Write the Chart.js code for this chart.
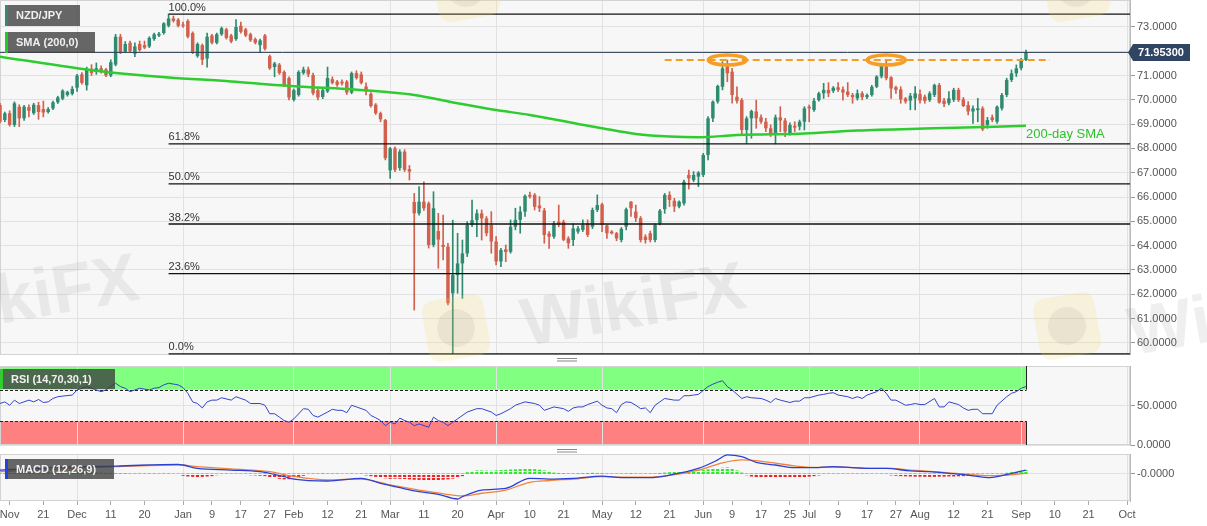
<!DOCTYPE html>
<html>
<head>
<meta charset="utf-8">
<script src="https://cdn.jsdelivr.net/npm/chart.js@4.4.0/dist/chart.umd.min.js"></script>
<style>
body { margin:0; background:#fff; width:1207px; height:526px; overflow:hidden; position:relative; font-family:'Liberation Sans', Arial, sans-serif; }
canvas { position:absolute; left:0; }
#main { top:0; }
#rsi { top:355px; }
#macd { top:445px; }
.wm { position:absolute; transform:translate(-50%,-50%) rotate(-10deg); pointer-events:none; }
.wt { font:bold 68px 'Liberation Sans', Arial, sans-serif; color:rgba(120,110,110,0.11); white-space:nowrap; }
.wl { width:62px; height:62px; border-radius:12px; background:rgba(250,215,110,0.2); }
.wl::after { content:''; position:absolute; left:12px; top:12px; width:38px; height:38px; border-radius:50%; background:rgba(130,120,120,0.11); }
</style>
</head>
<body>
<canvas id="main" width="1207" height="355"></canvas>
<canvas id="rsi" width="1207" height="99"></canvas>
<canvas id="macd" width="1207" height="81"></canvas>
<div class="wm wl" style="left:456px;top:328px"></div>
<div class="wm wl" style="left:1067px;top:326px"></div>
<div class="wm wl" style="left:466px;top:-12px"></div>
<div class="wm wl" style="left:1076px;top:-12px"></div>
<div class="wm wt" style="left:633px;top:303px">WikiFX</div>
<div class="wm wt" style="left:26px;top:295px">WikiFX</div>
<div class="wm wt" style="left:1240px;top:312px">WikiFX</div>
<script>
// daily NZD/JPY candles, one per trading day from 8 Nov 2019 (index 0) to 2 Sep 2020
const opens = [69.79,69.17,69.45,68.97,69.72,69.24,69.70,69.45,69.78,69.62,
69.50,69.65,69.90,70.05,70.20,70.25,70.50,71.05,70.60,71.28,
71.15,71.30,71.25,71.00,71.45,72.60,71.98,72.35,71.90,72.30,
72.25,72.20,72.50,72.65,72.75,73.05,73.35,73.30,73.10,73.25,
72.75,71.80,72.25,71.70,72.65,72.35,72.70,72.90,72.65,72.50,
73.05,72.90,72.70,72.50,72.25,72.65,71.80,71.35,71.45,71.15,
70.90,70.00,70.20,71.10,71.25,71.02,70.40,70.12,70.35,70.85,
70.75,70.75,70.75,70.30,71.10,71.05,70.55,70.25,69.80,69.45,
69.17,67.10,68.00,67.20,67.87,67.15,65.80,65.33,65.81,65.74,
64.03,64.60,64.03,63.96,62.04,62.79,63.27,63.68,64.85,65.05,
65.33,65.12,64.85,64.17,63.35,63.85,63.75,64.78,65.06,65.40,
66.09,66.09,65.65,65.45,64.50,64.37,64.98,64.98,64.30,64.23,
64.58,64.65,64.92,64.78,65.47,65.70,64.83,64.58,64.51,64.23,
64.78,65.81,65.40,65.13,64.37,64.51,64.23,64.92,65.50,66.09,
65.85,65.61,65.74,66.91,66.70,66.84,66.91,67.73,69.24,69.93,
70.54,71.50,71.16,70.13,69.99,68.76,69.24,69.52,69.28,69.10,
68.83,68.56,69.28,69.15,68.62,68.93,68.90,69.10,69.72,69.58,
69.99,70.27,70.41,70.37,70.52,70.43,70.34,70.20,70.06,70.27,
70.11,70.20,70.54,70.96,71.37,70.93,70.52,70.43,70.06,69.97,
70.06,70.24,70.13,69.99,70.20,70.61,69.97,69.86,70.00,70.41,
70.02,69.79,69.52,69.58,69.65,68.97,69.28,69.10,69.65,70.20,
70.82,71.09,71.30,71.64];
const highs = [69.86,69.50,69.55,69.92,69.80,69.78,69.80,69.86,69.90,69.95,
69.68,69.95,70.15,70.42,70.36,70.55,71.05,71.12,71.35,71.45,
71.52,71.40,71.30,71.65,72.70,72.70,72.40,72.42,72.35,72.42,
72.42,72.60,72.75,72.78,73.18,73.53,73.45,73.35,73.20,73.30,
72.80,72.35,72.30,72.75,72.70,72.75,73.00,72.95,72.70,73.30,
73.20,72.95,72.75,72.55,72.50,72.70,71.85,71.55,71.50,71.20,
70.95,70.45,71.20,71.35,71.35,71.10,70.45,70.45,71.35,70.95,
70.80,70.82,70.80,71.15,71.20,71.15,70.70,70.30,69.85,69.50,
69.20,68.05,68.07,67.95,67.95,67.30,66.15,66.43,66.63,65.80,
66.22,65.33,65.26,64.10,65.05,64.51,64.23,64.99,65.88,65.47,
65.47,65.20,65.40,64.37,63.89,64.03,65.06,65.54,65.61,66.09,
66.20,66.15,66.02,65.54,64.58,65.00,65.67,65.05,64.37,64.90,
64.80,65.06,65.06,65.55,66.09,65.75,64.85,64.62,64.55,64.75,
65.55,65.81,65.67,65.20,64.45,64.60,64.90,65.50,66.15,66.22,
65.95,65.85,66.70,67.11,67.05,67.05,67.80,69.31,69.96,70.61,
71.57,71.64,71.30,70.54,70.06,69.31,69.58,69.99,69.38,69.24,
68.97,69.38,69.72,69.24,69.05,69.10,69.17,69.72,69.79,70.06,
70.32,70.68,70.71,70.55,70.71,70.54,70.71,70.27,70.41,70.34,
70.25,70.60,71.00,71.50,71.62,70.96,70.57,70.54,70.10,70.27,
70.55,70.41,70.20,70.34,70.65,70.68,70.06,70.34,70.48,70.48,
70.10,69.93,69.75,70.06,69.72,69.28,69.38,69.75,70.27,70.89,
71.23,71.44,71.71,72.05];
const lows = [69.05,69.10,68.92,68.90,68.90,69.15,69.30,69.40,69.20,69.30,
69.45,69.60,69.85,70.00,70.15,70.20,70.35,70.65,70.40,71.00,
71.05,71.10,70.95,70.95,71.40,71.90,71.95,71.95,71.78,72.00,
72.10,72.15,72.45,72.60,72.70,73.00,73.20,73.00,72.98,72.55,
71.90,71.75,71.45,71.35,72.30,72.30,72.65,72.50,72.35,72.45,
72.75,72.60,72.40,72.30,71.95,72.05,71.25,70.95,71.05,70.55,
70.00,69.95,70.15,71.05,70.95,70.20,70.00,70.05,70.30,70.65,
70.55,70.60,70.22,70.25,70.85,70.65,70.20,69.70,69.40,69.10,
67.53,66.77,67.05,67.10,67.05,66.70,61.35,65.25,65.45,63.90,
63.95,63.07,63.41,61.56,59.55,62.04,61.83,63.55,64.78,64.37,
64.23,64.40,63.69,63.21,63.14,63.34,63.69,64.65,64.51,65.20,
65.95,65.47,65.40,64.10,63.89,64.30,64.78,64.20,63.89,64.00,
64.50,64.58,64.37,64.70,65.40,64.58,64.30,64.48,64.20,64.15,
64.65,65.20,64.99,64.15,64.10,64.15,64.15,64.85,65.33,65.61,
65.40,65.55,65.67,66.33,66.63,66.43,66.84,67.53,69.10,69.86,
70.41,70.75,69.86,69.86,68.56,68.21,68.42,68.83,69.03,68.69,
68.49,68.19,68.69,68.49,68.55,68.69,68.76,68.76,69.10,69.52,
69.95,70.06,70.13,70.30,70.34,69.99,70.13,69.86,69.99,70.00,
70.05,70.15,70.50,70.90,70.82,70.06,70.27,69.86,69.86,69.59,
69.59,69.86,69.86,69.93,70.13,69.86,69.72,69.79,69.93,69.93,
69.72,69.38,69.03,69.10,68.73,68.83,69.10,69.03,69.58,70.13,
70.75,70.96,71.23,71.61];
const closes = [69.10,69.45,68.97,69.86,69.24,69.72,69.55,69.80,69.50,69.48,
69.62,69.90,70.10,70.38,70.33,70.45,71.00,70.70,71.25,71.10,
71.30,71.15,71.00,71.55,72.60,71.95,72.30,72.00,72.20,72.05,
72.15,72.55,72.70,72.72,73.15,73.35,73.25,73.05,73.05,72.60,
71.95,72.30,71.65,72.60,72.35,72.70,72.95,72.55,72.40,73.00,
72.80,72.65,72.45,72.35,72.45,72.10,71.30,71.50,71.10,70.60,
70.10,70.40,71.15,71.25,71.05,70.27,70.10,70.40,70.90,70.70,
70.62,70.68,70.30,71.10,70.90,70.70,70.35,69.75,69.45,69.20,
67.60,68.00,67.12,67.87,67.12,67.05,65.33,65.81,65.54,64.03,
65.54,64.25,63.95,61.63,62.79,63.27,63.68,64.85,65.05,65.33,
65.12,64.51,64.17,63.35,63.82,63.74,64.78,65.06,65.40,66.05,
66.02,65.60,65.54,64.44,64.37,64.92,64.85,64.24,64.10,64.71,
64.71,64.85,64.44,65.47,65.67,64.85,64.51,64.51,64.30,64.69,
65.50,65.54,65.13,64.23,64.23,64.23,64.85,65.44,66.09,65.88,
65.61,65.81,66.63,66.77,66.91,67.01,67.73,69.24,69.93,70.57,
71.30,71.09,70.20,69.96,68.76,69.24,69.54,69.24,69.10,68.83,
68.56,69.28,69.15,68.69,68.97,68.86,69.10,69.65,69.65,69.96,
70.27,70.41,70.27,70.50,70.41,70.30,70.20,70.11,70.27,70.11,
70.20,70.54,70.96,71.39,70.89,70.47,70.41,70.02,69.93,70.17,
70.27,69.97,69.96,70.27,70.61,69.89,69.83,70.06,70.41,69.99,
69.75,69.52,69.65,69.65,68.79,69.17,69.17,69.72,70.20,70.82,
71.09,71.30,71.60,71.953];

// 200-day SMA, [day index, value]
const smaPts = [[0,71.78],[16,71.30],[23,71.13],[35,70.92],[48,70.76],[58,70.60],[65,70.52],[73,70.44],
[79,70.34],[86,70.20],[95,69.86],[103,69.58],[110,69.38],[120,69.01],[125,68.83],[132,68.60],[139,68.49],
[145,68.46],[153,68.55],[160,68.58],[167,68.62],[178,68.74],[194,68.83],[213,68.93]];

// RSI(14) [day index, value]
const rsiPts = [[0,52.5],[1,54.6],[2,50.3],[3,56.8],[4,52.5],[6,56.8],[7,54.6],[8,57.6],[9,53.8],[10,54.6],
[11,58.9],[12,61.1],[13,61.9],[15,63.2],[16,69.7],[17,71.8],[18,74.0],[19,71.8],[21,67.5],[22,69.7],
[23,74.0],[24,78.2],[25,74.0],[26,71.8],[27,67.5],[28,69.7],[29,71.8],[31,69.7],[32,71.8],[33,72.7],
[34,76.1],[35,78.2],[37,76.1],[38,72.7],[39,65.4],[40,54.6],[41,52.5],[42,46.9],[43,54.6],[44,56.8],
[45,56.8],[46,59.8],[48,56.8],[49,61.1],[50,58.9],[51,56.8],[52,52.5],[54,52.5],[55,50.3],[56,39.6],
[57,39.6],[58,35.3],[59,31.0],[60,28.8],[61,33.0],[63,46.0],[64,45.2],[65,37.4],[66,35.3],[68,41.7],
[69,45.2],[70,43.9],[71,43.9],[72,40.9],[73,50.3],[74,48.2],[76,43.9],[77,37.4],[78,34.4],[79,31.0],
[80,24.5],[81,28.8],[82,26.7],[83,34.0],[84,31.0],[85,28.8],[86,24.5],[87,26.7],[89,22.5],[90,35.3],
[91,31.0],[92,28.8],[93,24.5],[94,28.8],[95,33.1],[97,41.7],[99,46.0],[100,46.0],[102,41.7],[103,37.4],
[104,39.6],[106,46.0],[107,50.3],[108,52.5],[109,54.6],[111,52.5],[112,50.3],[113,43.9],[114,46.0],[115,48.2],
[117,46.0],[118,42.6],[119,46.9],[120,48.2],[121,48.2],[122,51.2],[124,55.5],[125,50.3],[126,46.9],[127,46.0],
[128,40.9],[129,51.2],[130,54.6],[131,53.8],[132,50.3],[133,46.0],[134,46.9],[135,40.9],[136,50.3],[137,54.6],
[138,58.9],[140,56.8],[141,56.8],[142,62.4],[143,62.4],[144,63.2],[145,64.1],[147,74.0],[148,77.0],[149,79.5],
[150,81.3],[151,74.0],[152,69.7],[154,58.9],[155,61.1],[156,59.8],[158,58.9],[159,56.8],[160,53.8],[161,58.9],
[162,56.8],[164,53.8],[165,55.5],[166,55.5],[167,59.8],[168,59.8],[170,63.2],[171,64.1],[172,65.4],[173,66.2],
[174,63.2],[176,61.1],[177,58.9],[178,61.1],[179,58.9],[180,63.2],[182,67.5],[183,71.8],[184,65.4],[185,56.8],
[186,56.8],[188,50.3],[189,51.2],[190,52.5],[191,51.2],[192,51.2],[194,58.9],[195,48.2],[196,48.2],[197,54.6],
[199,51.2],[200,46.9],[201,43.9],[202,45.2],[203,45.2],[204,39.6],[206,39.6],[207,50.3],[209,61.1],[210,65.4],
[211,67.5],[212,71.8],[213,74.0]];

// MACD(12,26,9) lines [day index, value]
const macdPts = [[0,0.22],[8,0.31],[16,0.41],[24,0.44],[37,0.54],[38,0.50],[41,0.31],[48,0.22],[54,0.13],
[59,-0.15],[61,-0.28],[68,-0.39],[75,-0.24],[79,-0.52],[83,-0.76],[87,-0.98],[91,-1.13],[95,-1.39],[96,-1.26],
[100,-0.89],[105,-0.80],[110,-0.24],[114,-0.28],[119,-0.24],[125,-0.12],[129,-0.20],[135,-0.20],[139,-0.06],
[145,0.31],[149,0.78],[151,1.06],[154,0.96],[157,0.65],[161,0.50],[165,0.35],[169,0.35],[173,0.41],[177,0.35],
[181,0.31],[184,0.31],[189,0.17],[193,0.13],[197,0.04],[201,-0.06],[205,-0.20],[208,-0.09],[213,0.22]];
const signalPts = [[0,0.13],[16,0.31],[24,0.41],[37,0.50],[41,0.41],[48,0.28],[56,0.13],[60,-0.09],[68,-0.33],
[75,-0.28],[81,-0.61],[87,-0.89],[94,-1.17],[96,-1.22],[100,-1.07],[105,-0.89],[110,-0.46],[114,-0.36],
[119,-0.28],[125,-0.15],[129,-0.17],[135,-0.17],[139,-0.08],[145,0.22],[150,0.62],[154,0.78],[157,0.74],
[161,0.60],[165,0.45],[169,0.37],[173,0.39],[177,0.35],[181,0.31],[185,0.31],[189,0.22],[193,0.15],[197,0.06],
[201,-0.02],[205,-0.09],[208,-0.08],[213,0.04]];
// MACD histogram, one per candle
const histo = [0.03,0.03,0.04,0.04,0.05,0.05,0.06,0.06,0.07,0.07,0.08,0.08,0.08,0.09,0.09,0.10,0.10,0.10,0.09,0.08,0.07,0.06,0.05,0.04,
0.03,0.03,0.03,0.02,0.02,0.02,0.02,0.02,0.02,0.02,0.02,0.02,0.01,0.01,
-0.08,-0.12,-0.14,-0.15,-0.14,-0.12,-0.10,
-0.05,-0.04,-0.03,-0.03,-0.03,-0.04,-0.04,-0.05,-0.06,-0.08,-0.10,
-0.15,-0.20,-0.25,-0.28,-0.27,-0.22,-0.15,
-0.08,-0.03,0.02,0.02,0.03,0.02,0.02,0.02,0.01,0.01,0.02,0.01,-0.01,
-0.06,-0.10,-0.14,-0.18,-0.22,-0.25,-0.24,-0.25,-0.26,-0.28,-0.30,-0.31,-0.32,-0.33,-0.33,-0.32,-0.30,-0.28,-0.24,-0.18,-0.10,
0.08,0.15,0.18,0.18,0.17,0.16,0.18,0.20,0.21,0.23,0.24,0.25,0.26,0.26,0.25,0.22,0.18,0.12,
0.06,0.04,0.03,0.02,0.02,0.03,0.03,0.04,0.05,0.04,
0.03,0.02,-0.02,-0.03,-0.02,0.02,0.03,0.02,-0.02,-0.03,-0.03,0.02,
0.04,0.06,0.08,0.10,0.12,0.13,0.15,0.17,0.19,0.21,0.24,0.27,0.30,0.33,0.35,0.30,0.18,0.06,
-0.05,-0.12,-0.15,-0.17,-0.18,-0.19,-0.20,-0.20,-0.19,-0.18,-0.17,-0.16,-0.15,-0.13,-0.10,-0.06,
-0.03,-0.02,-0.02,-0.01,-0.01,-0.02,-0.02,-0.02,-0.01,-0.01,0.01,0.01,-0.01,-0.02,
-0.06,-0.08,-0.10,-0.11,-0.12,-0.13,-0.13,-0.14,-0.14,-0.14,-0.13,-0.13,-0.12,-0.12,-0.11,-0.10,-0.09,-0.08,-0.07,-0.06,-0.05,
-0.03,-0.02,0.02,0.05,0.08,0.12,0.16,0.20];

// x axis labels (trading-day index -> text)
const tickIdx = [2,9,16,23,30,38,44,50,56,61,68,75,81,88,95,103,110,117,125,132,139,146,152,158,164,168,174,180,186,191,198,205,212,219,226,234];
const tickText = ['Nov','21','Dec','11','20','Jan','9','17','27','Feb','12','21','Mar','11','20','Apr','10','21','May','12','21','Jun','9','17','25','Jul','9','17','27','Aug','12','21','Sep','10','21','Oct'];
const priceTicks = [60,61,62,63,64,65,66,67,68,69,70,71,72,73];
const rsiTicks = [0, 50];
const macdTicks = [-0.00001];

const fibRatios = [0, 0.236, 0.382, 0.5, 0.618, 1];
const resLevel = 71.64, resFrom = 138, resTo = 218;
const resTouches = [151, 184];
const rsiBands = [30, 70];

const X_MAX = 234.6;
const UP = '#2f8b6f', DOWN = '#d1604d', ORANGE = '#f59d25', SMA_GREEN = '#2ecc2e';
const FONT = "'Liberation Sans', Arial, sans-serif";
Chart.defaults.font.family = FONT;
Chart.defaults.font.size = 11;
Chart.defaults.color = '#555';

const lastIdx = closes.length - 1;
const fibHigh = Math.max(...highs), fibLow = Math.min(...lows);
const fibStart = highs.indexOf(fibHigh);
const fibLevel = r => fibLow + (fibHigh - fibLow) * r;
const tickLabel = {};
tickIdx.forEach((v, k) => { tickLabel[v] = tickText[k]; });
const monthTicks = new Set(tickIdx.filter((v, k) => k > 0 && /[A-Za-z]/.test(tickText[k])));
const pts = arr => arr.map(p => ({x: p[0], y: p[1]}));
const candleColor = c => closes[c.dataIndex] >= opens[c.dataIndex] ? UP : DOWN;

function xAxis(show) {
	return {
		type: 'linear', min: 0, max: X_MAX, offset: false,
		afterBuildTicks: s => { s.ticks = tickIdx.map(v => ({value: v})); },
		afterFit: s => { s.height = show ? 25 : 0; s.paddingLeft = 0; s.paddingRight = 0; },
		grid: {
			offset: false, drawTicks: show, tickLength: 4, tickColor: '#aaa',
			color: c => (c.tick && monthTicks.has(c.tick.value)) ? '#e2e2e2' : 'rgba(0,0,0,0)'
		},
		border: { display: false },
		ticks: { display: show, autoSkip: false, maxRotation: 0, padding: 3, font: { size: 11 },
			callback: v => tickLabel[v] ?? '' }
	};
}

function yAxis(min, max, ticks) {
	return {
		type: 'linear', position: 'right', min: min, max: max,
		afterBuildTicks: s => { s.ticks = ticks.map(v => ({value: v})); },
		afterFit: s => { s.width = 77; s.paddingTop = 0; s.paddingBottom = 0; },
		grid: { color: '#e2e2e2', tickLength: 5, tickColor: '#999' },
		border: { display: true, color: '#bbb' },
		ticks: { padding: 2, font: { size: 11 }, callback: v => v.toFixed(4) }
	};
}

function baseOptions(x, y, padding) {
	return {
		responsive: false, devicePixelRatio: 1, animation: false, events: [],
		layout: { padding: padding },
		plugins: { legend: { display: false }, tooltip: { enabled: false } },
		scales: { x: x, y: y }
	};
}

function fillArea(chart) {
	const {ctx, chartArea: a} = chart;
	ctx.save();
	ctx.fillStyle = '#f7f7f7';
	ctx.fillRect(a.left, a.top, a.right - a.left, a.bottom - a.top);
	ctx.restore();
}

function frame(chart) {
	const {ctx, chartArea: a} = chart;
	ctx.save();
	ctx.strokeStyle = '#d3d3d3';
	ctx.lineWidth = 1;
	ctx.strokeRect(a.left + 0.5, a.top + 0.5, a.right - a.left - 1, a.bottom - a.top - 1);
	ctx.restore();
}

function tag(ctx, x, y, w, h, stripe, text) {
	ctx.save();
	ctx.fillStyle = 'rgba(62,62,62,0.78)';
	ctx.fillRect(x, y, w, h);
	ctx.fillStyle = stripe;
	ctx.fillRect(x, y, 3, h);
	ctx.fillStyle = '#f0f0f0';
	ctx.font = 'bold 11px ' + FONT;
	ctx.textBaseline = 'middle';
	ctx.fillText(text, x + 11, y + h / 2 + 0.5);
	ctx.restore();
}

function handle(ctx, y) {
	ctx.save();
	ctx.strokeStyle = '#888';
	ctx.lineWidth = 1;
	[y, y + 2.5].forEach(yy => {
		ctx.beginPath(); ctx.moveTo(557, yy); ctx.lineTo(577, yy); ctx.stroke();
	});
	ctx.restore();
}

function dotted(color) {
	const c = document.createElement('canvas');
	c.width = 4; c.height = 3;
	const g = c.getContext('2d');
	g.fillStyle = color;
	g.fillRect(0, 0, 4, 2);
	return g.createPattern(c, 'repeat');
}

// ---------- price panel ----------
const mainDeco = {
	id: 'mainDeco',
	beforeDraw: fillArea,
	beforeDatasetsDraw: frame,
	afterDatasetsDraw(chart) {
		const {ctx, scales: {x, y}} = chart;
		ctx.save();
		ctx.font = '11px ' + FONT;
		ctx.fillStyle = '#333';
		ctx.textBaseline = 'bottom';
		fibRatios.forEach(r => {
			ctx.fillText((r * 100).toFixed(1) + '%', x.getPixelForValue(fibStart), y.getPixelForValue(fibLevel(r)) - 1);
		});
		ctx.strokeStyle = ORANGE;
		ctx.lineWidth = 3.5;
		resTouches.forEach(i => {
			ctx.beginPath();
			ctx.ellipse(x.getPixelForValue(i), y.getPixelForValue(resLevel), 19, 5, 0, 0, Math.PI * 2);
			ctx.stroke();
		});
		const s = smaPts[smaPts.length - 1];
		ctx.fillStyle = '#2cc22c';
		ctx.font = '13px ' + FONT;
		ctx.textBaseline = 'top';
		ctx.fillText('200-day SMA', x.getPixelForValue(s[0]), y.getPixelForValue(s[1]) + 2);
		ctx.restore();
	},
	afterDraw(chart) {
		const {ctx, chartArea: a, scales: {y}} = chart;
		const py = y.getPixelForValue(closes[lastIdx]);
		ctx.save();
		ctx.fillStyle = '#2f4563';
		ctx.beginPath();
		ctx.moveTo(a.right - 2, py);
		ctx.lineTo(a.right + 3, py - 8.5);
		ctx.lineTo(a.right + 60, py - 8.5);
		ctx.lineTo(a.right + 60, py + 8.5);
		ctx.lineTo(a.right + 3, py + 8.5);
		ctx.closePath();
		ctx.fill();
		ctx.fillStyle = '#fff';
		ctx.font = 'bold 11px ' + FONT;
		ctx.textAlign = 'center';
		ctx.textBaseline = 'middle';
		ctx.fillText(closes[lastIdx].toFixed(5), a.right + 31, py + 0.5);
		ctx.restore();
		tag(ctx, 5, 5, 75, 21, '#3b8376', 'NZD/JPY');
		tag(ctx, 5, 32, 90, 21, '#28c828', 'SMA (200,0)');
	}
};

new Chart(document.getElementById('main'), {
	type: 'line',
	data: { datasets: [
		{ type: 'line', data: pts(smaPts), borderColor: SMA_GREEN, borderWidth: 2.5, pointRadius: 0, cubicInterpolationMode: 'monotone', order: 0 },
		{ type: 'line', data: [{x: 0, y: closes[lastIdx]}, {x: X_MAX, y: closes[lastIdx]}], borderColor: '#2c3e55', borderWidth: 1, pointRadius: 0, order: 0 },
		{ type: 'line', data: [{x: resFrom, y: resLevel}, {x: resTo, y: resLevel}], borderColor: ORANGE, borderWidth: 2, borderDash: [7, 4], pointRadius: 0, order: 0 },
		...fibRatios.map(r => ({ type: 'line', data: [{x: fibStart, y: fibLevel(r)}, {x: X_MAX, y: fibLevel(r)}], borderColor: '#111', borderWidth: 1.3, pointRadius: 0, order: 0 })),
		{ type: 'bar', data: closes.map((c, i) => ({x: i, y: [lows[i], highs[i]]})), backgroundColor: candleColor, barThickness: 1, grouped: false, order: 2 },
		{ type: 'bar', data: closes.map((c, i) => ({x: i, y: [opens[i], c]})), backgroundColor: candleColor, barPercentage: 0.72, categoryPercentage: 1, minBarLength: 1, grouped: false, order: 1 }
	]},
	options: baseOptions(xAxis(false), yAxis(59.50, 74.11, priceTicks), { top: 0, bottom: 0, left: 0, right: 0 }),
	plugins: [mainDeco]
});

// ---------- RSI panel ----------
const rsiDeco = {
	id: 'rsiDeco',
	beforeDraw(chart) {
		fillArea(chart);
		const {ctx, scales: {x, y}} = chart;
		const x0 = x.getPixelForValue(0), x1 = x.getPixelForValue(lastIdx);
		ctx.save();
		ctx.fillStyle = '#80ff80';
		ctx.fillRect(x0, y.getPixelForValue(100), x1 - x0, y.getPixelForValue(rsiBands[1]) - y.getPixelForValue(100));
		ctx.fillStyle = '#ff8080';
		ctx.fillRect(x0, y.getPixelForValue(rsiBands[0]), x1 - x0, y.getPixelForValue(0) - y.getPixelForValue(rsiBands[0]));
		ctx.restore();
	},
	beforeDatasetsDraw(chart) {
		frame(chart);
		const {ctx, scales: {x, y}} = chart;
		const x0 = x.getPixelForValue(0), x1 = Math.round(x.getPixelForValue(lastIdx)) + 0.5;
		ctx.save();
		ctx.strokeStyle = '#222';
		ctx.lineWidth = 1;
		ctx.setLineDash([3, 2]);
		rsiBands.forEach(v => {
			const yy = Math.round(y.getPixelForValue(v)) + 0.5;
			ctx.beginPath(); ctx.moveTo(x0, yy); ctx.lineTo(x1, yy); ctx.stroke();
		});
		ctx.setLineDash([]);
		ctx.beginPath();
		ctx.moveTo(x1, y.getPixelForValue(100)); ctx.lineTo(x1, y.getPixelForValue(rsiBands[1]));
		ctx.moveTo(x1, y.getPixelForValue(rsiBands[0])); ctx.lineTo(x1, y.getPixelForValue(0));
		ctx.stroke();
		ctx.restore();
	},
	afterDraw(chart) {
		handle(chart.ctx, 3.5);
		tag(chart.ctx, 0, 14, 115, 20, '#33cc33', 'RSI (14,70,30,1)');
	}
};

new Chart(document.getElementById('rsi'), {
	type: 'line',
	data: { datasets: [
		{ data: pts(rsiPts), borderColor: '#3344cc', borderWidth: 1, pointRadius: 0, tension: 0 }
	]},
	options: baseOptions(xAxis(false), yAxis(0, 100, rsiTicks), { top: 11, bottom: 9, left: 0, right: 0 }),
	plugins: [rsiDeco]
});

// ---------- MACD panel ----------
const macdDeco = {
	id: 'macdDeco',
	beforeDraw: fillArea,
	beforeDatasetsDraw: frame,
	afterDraw(chart) {
		handle(chart.ctx, 4.5);
		tag(chart.ctx, 5, 14, 109, 20, '#2244dd', 'MACD (12,26,9)');
	}
};

const greenDots = dotted('#2ee82e'), redDots = dotted('#ee2222');
new Chart(document.getElementById('macd'), {
	type: 'line',
	data: { datasets: [
		{ type: 'line', data: pts(macdPts), borderColor: '#2a40d8', borderWidth: 1.3, pointRadius: 0, cubicInterpolationMode: 'monotone', order: 0 },
		{ type: 'line', data: pts(signalPts), borderColor: '#f0843c', borderWidth: 1.3, pointRadius: 0, cubicInterpolationMode: 'monotone', order: 1 },
		{ type: 'bar', data: histo.map((v, i) => ({x: i, y: v})), backgroundColor: c => histo[c.dataIndex] >= 0 ? greenDots : redDots,
			barThickness: 2.5, grouped: false, order: 2 }
	]},
	options: baseOptions(xAxis(true), yAxis(-1.5, 1.111, macdTicks), { top: 9, bottom: 0, left: 0, right: 0 }),
	plugins: [macdDeco]
});
</script>
</body>
</html>
